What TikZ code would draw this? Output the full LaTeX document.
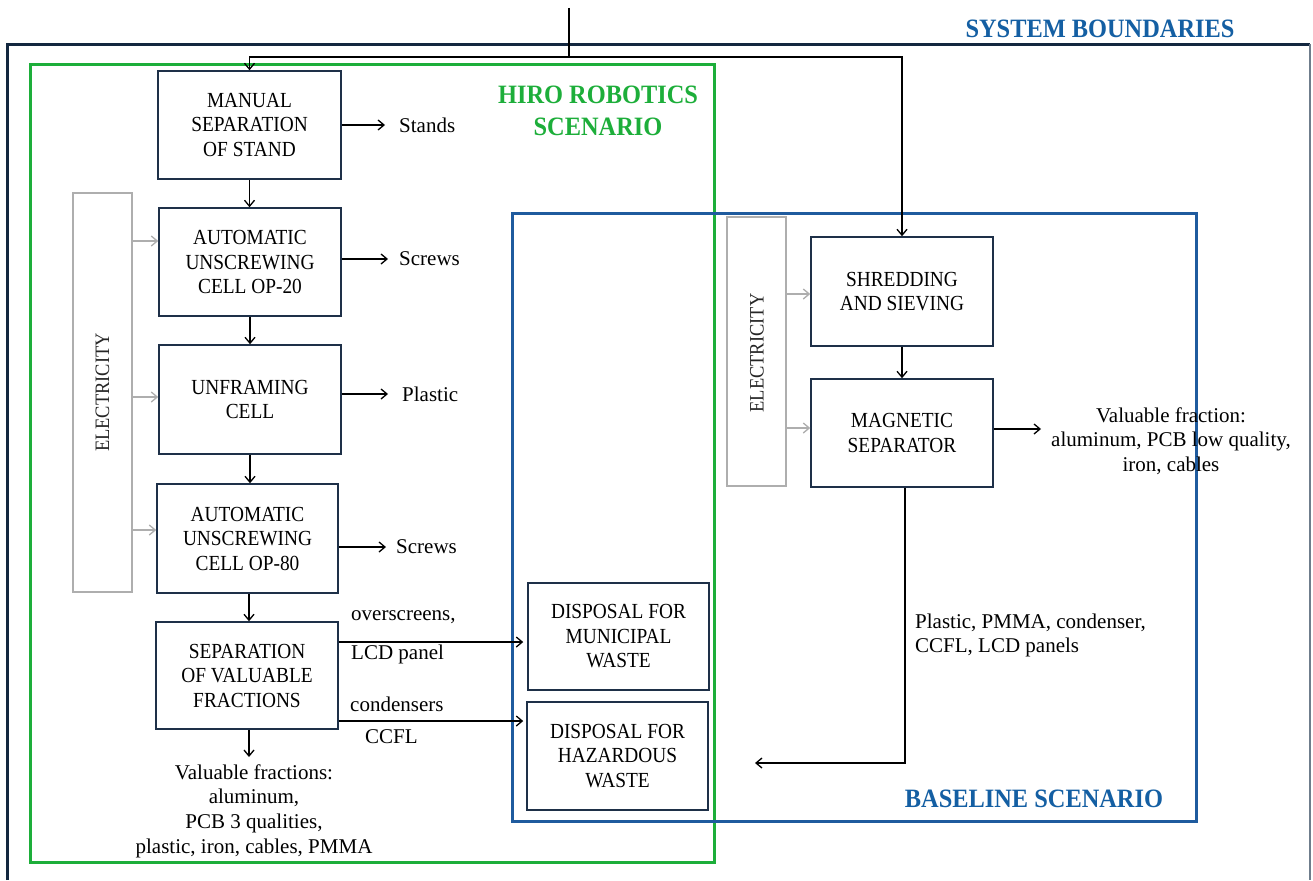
\documentclass[tikz,border=0pt]{standalone}
\usepackage{fontspec}
\setmainfont{Liberation Serif}
\newfontfamily\boxfont{Liberation Serif}[FakeStretch=0.9]
\newfontfamily\headfont{Liberation Serif}[FakeStretch=0.92]
\usetikzlibrary{arrows.meta,calc}
\definecolor{navy}{HTML}{13273F}
\definecolor{boxline}{HTML}{1E3048}
\definecolor{hgreen}{HTML}{1DAE3A}
\definecolor{bblue}{HTML}{1F5B9E}
\definecolor{tblue}{HTML}{145FA3}
\definecolor{egray}{HTML}{AEAEAE}
\definecolor{rgray}{HTML}{6F7D8C}
\begin{document}
\begin{tikzpicture}[x=1pt,y=-1pt,
  pbox/.style={draw=boxline,line width=1.5pt,fill=white,align=center,inner sep=0pt,
    font=\boxfont\fontsize{21.5}{24.5}\selectfont,text=black},
  ebox/.style={draw=egray,line width=1.5pt,fill=white,inner sep=0pt},
  etext/.style={rotate=90,inner sep=0pt,font=\boxfont\fontsize{20.5}{24}\selectfont,text=black!85},
  lbl/.style={inner sep=0pt,align=center,font=\fontsize{21}{24.7}\selectfont,text=black},
  head/.style={inner sep=0pt,align=center,font=\headfont\bfseries\fontsize{26.5}{32}\selectfont},
  arr/.style={-{Straight Barb[length=6pt,width=10pt]},line width=1.3pt,draw=black},
  garr/.style={-{Straight Barb[length=6pt,width=10pt]},line width=1.3pt,draw=egray},
  plain/.style={line width=1.3pt,draw=black}
]
\useasboundingbox[fill=white] (0,0) rectangle (1313,880);

% frames
\draw[navy,line width=3pt] (7,880) -- (7,44.5) -- (1310,44.5);
\draw[rgray,line width=1.6pt] (1310,44.5) -- (1310,880);
\draw[hgreen,line width=3pt] (30.5,64.5) rectangle (714.5,862.5);
\draw[bblue,line width=3pt] (512.5,213.5) rectangle (1196,821);

% headings
\node[head,text=tblue] (sysb) at (1100,29) {SYSTEM BOUNDARIES};
\node[head,text=hgreen] (hiro) at (598,111) {HIRO ROBOTICS\\SCENARIO};
\node[head,text=tblue] (base) at (1034,799) {BASELINE SCENARIO};

% electricity
\node[ebox,minimum width=59pt,minimum height=399pt] (elecL) at (102.5,392.5) {};
\node[etext] (elecLt) at (102.5,392.5) {ELECTRICITY};
\node[ebox,minimum width=59pt,minimum height=269pt] (elecR) at (756.5,351.5) {};
\node[etext] (elecRt) at (757,353) {ELECTRICITY};

% process boxes
\node[pbox,minimum width=183pt,minimum height=108pt] (man) at (249.5,125) {MANUAL\\SEPARATION\\OF STAND};
\node[pbox,minimum width=182pt,minimum height=108pt] (op20) at (250,262) {AUTOMATIC\\UNSCREWING\\CELL OP-20};
\node[pbox,minimum width=182pt,minimum height=109pt] (unf) at (250,399.5) {UNFRAMING\\CELL};
\node[pbox,minimum width=181pt,minimum height=109pt] (op80) at (247.5,538.5) {AUTOMATIC\\UNSCREWING\\CELL OP-80};
\node[pbox,minimum width=182pt,minimum height=107pt] (sep) at (247,675.5) {SEPARATION\\OF VALUABLE\\FRACTIONS};
\node[pbox,minimum width=181pt,minimum height=107pt] (mun) at (618.5,636.5) {DISPOSAL FOR\\MUNICIPAL\\WASTE};
\node[pbox,minimum width=181pt,minimum height=108pt] (haz) at (617.5,756) {DISPOSAL FOR\\HAZARDOUS\\WASTE};
\node[pbox,minimum width=182pt,minimum height=109pt] (shr) at (902,291.5) {SHREDDING\\AND SIEVING};
\node[pbox,minimum width=182pt,minimum height=108pt] (mag) at (902,433) {MAGNETIC\\SEPARATOR};

% output labels
\node[lbl,anchor=west] (stands) at (399,125) {Stands};
\node[lbl,anchor=west] (screws1) at (399,259) {Screws};
\node[lbl,anchor=west] (plastic) at (402,394) {Plastic};
\node[lbl,anchor=west] (screws2) at (396,547) {Screws};
\node[lbl,anchor=west] (l1) at (351,617) {overscreens,};
\node[lbl,anchor=west] (l2) at (351,654) {LCD panel};
\node[lbl,anchor=west] (l3) at (350,704) {condensers};
\node[lbl,anchor=west] (l4) at (365,737) {CCFL};
\node[lbl] (valL) at (254,811) {Valuable fractions:\\aluminum,\\PCB 3 qualities,\\plastic, iron, cables, PMMA};
\node[lbl] (valR) at (1171,441) {Valuable fraction:\\aluminum, PCB low quality,\\iron, cables};
\node[lbl,anchor=west,align=left] (retlbl) at (915,635.5) {Plastic, PMMA, condenser,\\CCFL, LCD panels};

% input
\coordinate (src) at (569,8);
\coordinate (split) at (569,57);
\draw[plain] (src) -- (split);
\draw[arr] (split) -| (man.north);
\draw[arr] (split) -| (shr.north);

% main chain
\draw[arr] (man.south) -- (man.south |- op20.north);
\draw[arr] (op20.south) -- (op20.south |- unf.north);
\draw[arr] (unf.south) -- (unf.south |- op80.north);
\draw[arr] ([xshift=1.5pt]op80.south) -- ([xshift=1.5pt]op80.south |- sep.north);
\draw[arr] ([xshift=2pt]sep.south) -- ([xshift=2pt]sep.south |- 0,757);

% outputs
\draw[arr] (man.east |- stands.west) -- ([xshift=-14pt]stands.west);
\draw[arr] (op20.east |- screws1.west) -- ([xshift=-11pt]screws1.west);
\draw[arr] (unf.east |- plastic.west) -- ([xshift=-14pt]plastic.west);
\draw[arr] (op80.east |- screws2.west) -- ([xshift=-10pt]screws2.west);
\draw[arr] (sep.east |- 0,642) -- ([xshift=-4pt]mun.west |- 0,642);
\draw[arr] (sep.east |- 0,721) -- ([xshift=-3pt]haz.west |- 0,721);

% electricity arrows
\draw[garr] (elecL.east |- 0,241) -- (op20.west |- 0,241);
\draw[garr] (elecL.east |- 0,397) -- (unf.west |- 0,397);
\draw[garr] (elecL.east |- 0,530) -- (op80.west |- 0,530);
\draw[garr] (elecR.east |- 0,294) -- (shr.west |- 0,294);
\draw[garr] (elecR.east |- 0,428) -- (mag.west |- 0,428);

% baseline chain
\draw[arr] (shr.south) -- (shr.south |- mag.north);
\coordinate (valRin) at (1041,429);
\draw[arr] (mag.east |- valRin) -- (valRin);
\coordinate (ret) at (755,763);
\draw[arr] ([xshift=3pt]mag.south) |- (ret);
\end{tikzpicture}
\end{document}
